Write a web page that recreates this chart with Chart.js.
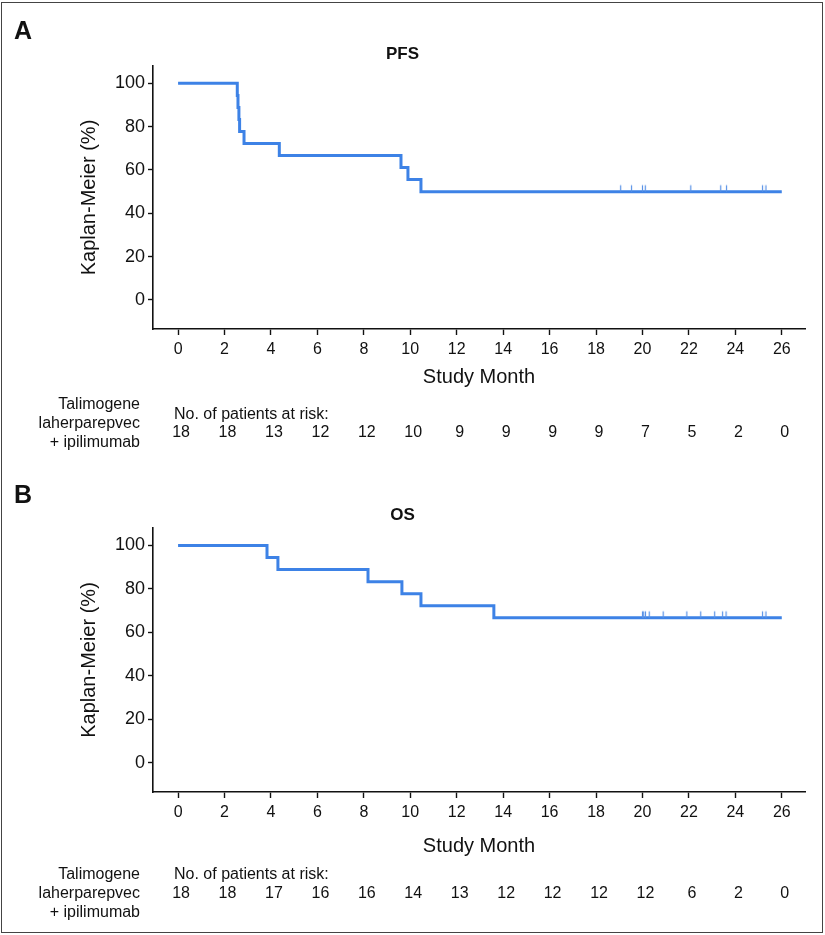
<!DOCTYPE html>
<html><head><meta charset="utf-8">
<script src="https://cdn.jsdelivr.net/npm/chart.js@4.4.0/dist/chart.umd.min.js"></script>
<style>
html,body{margin:0;padding:0;background:#fff;}
body{width:825px;height:935px;position:relative;overflow:hidden;}
#frame{position:absolute;left:1px;top:2px;width:822px;height:931px;border:1.5px solid #444;box-sizing:border-box;pointer-events:none;z-index:2;}
.wrap{position:absolute;left:0;width:825px;}
</style></head><body>
<div id="frame"></div>
<div class="wrap" style="top:0;height:462px"><canvas id="pfs"></canvas></div>
<div class="wrap" style="top:462px;height:473px"><canvas id="os"></canvas></div>
<script>
// ---- data ----
const xTicks = [0,2,4,6,8,10,12,14,16,18,20,22,24,26];
const yTicks = [0,20,40,60,80,100];

const pfsTimes = [0, 2.55, 2.58, 2.62, 2.65, 2.84, 4.36, 9.6, 9.9, 10.46, 26];
const pfsSurv  = [100, 94.4, 88.9, 83.3, 77.8, 72.2, 66.7, 61.1, 55.6, 50.0, 50.0];
const pfsCensorTimes = [19.06, 19.53, 20.0, 20.12, 22.08, 23.37, 23.62, 25.17, 25.32];
const pfsAtRisk = [18,18,13,12,12,10,9,9,9,9,7,5,2,0];

const osTimes = [0, 3.83, 4.3, 8.18, 9.64, 10.46, 13.6, 26];
const osSurv  = [100, 94.4, 88.9, 83.3, 77.8, 72.2, 66.7, 66.7];
const osCensorTimes = [20.0, 20.05, 20.13, 20.29, 20.89, 21.91, 22.51, 23.11, 23.45, 23.6, 25.17, 25.32];
const osAtRisk = [18,18,17,16,16,14,13,12,12,12,12,6,2,0];

const armLabel = ['Talimogene', 'laherparepvec', '+ ipilimumab'];
const riskHeader = 'No. of patients at risk:';

// ---- styling ----
const FONT = "'Liberation Sans', Arial, Helvetica, sans-serif";
const BLUE = '#3d82e6';
const CENSOR_BLUE = '#5a93e6';

function censorImage(){
  const c = document.createElement('canvas');
  c.width = 3; c.height = 16;
  const g = c.getContext('2d');
  g.strokeStyle = CENSOR_BLUE; g.lineWidth = 1.2;
  g.beginPath(); g.moveTo(1.5, 1.5); g.lineTo(1.5, 8); g.stroke();
  return c;
}
const censorImg = censorImage();

function survAt(times, surv, t){
  let s = surv[0];
  for (let i = 0; i < times.length; i++){ if (times[i] <= t) s = surv[i]; }
  return s;
}

function makeChart(id, cfg){
  const line = cfg.times.map((t,i)=>({x:t, y:cfg.surv[i]}));
  const cens = cfg.censors.map(t=>({x:t, y:survAt(cfg.times, cfg.surv, t)}));
  const extras = {
    id:'extras',
    afterDraw(chart){
      const ctx = chart.ctx, xs = chart.scales.x;
      ctx.save();
      ctx.fillStyle = '#111';
      // panel letter
      ctx.font = 'bold 25px ' + FONT;
      ctx.textAlign = 'left'; ctx.textBaseline = 'alphabetic';
      ctx.fillText(cfg.letter, 14, cfg.letterY);
      // risk table
      ctx.font = '16px ' + FONT;
      ctx.textBaseline = 'middle';
      ctx.textAlign = 'right';
      armLabel.forEach((s,i)=>ctx.fillText(s, 140, cfg.armY + i*19));
      ctx.textAlign = 'left';
      ctx.fillText(riskHeader, 174, cfg.headY);
      ctx.textAlign = 'center';
      cfg.atRisk.forEach((n,i)=>ctx.fillText(String(n), xs.getPixelForValue(xTicks[i]) + 3, cfg.numY));
      ctx.restore();
    }
  };
  return new Chart(document.getElementById(id), {
    type:'line',
    data:{datasets:[
      {data:line, stepped:'before', borderColor:BLUE, borderWidth:3, pointRadius:0, fill:false, borderCapStyle:'butt', borderJoinStyle:'miter', order:2},
      {data:cens, showLine:false, pointStyle:censorImg, pointRadius:8, borderColor:CENSOR_BLUE, order:1}
    ]},
    options:{
      responsive:true, maintainAspectRatio:false, animation:false, devicePixelRatio:1,
      layout:{padding:{left:0, right:20, top:0, bottom:cfg.padBottom}},
      plugins:{
        legend:{display:false}, tooltip:{enabled:false},
        title:{display:true, text:cfg.title, color:'#111', font:{family:FONT, size:17, weight:'bold'}, padding:{top:cfg.titleTop, bottom:66 - cfg.titleTop - 20.4}}
      },
      scales:{
        x:{type:'linear', min:-1.08, max:27.0,
           afterBuildTicks(s){ s.ticks = xTicks.map(v=>({value:v})); },
           afterFit(s){ s.height = cfg.xHeight; },
           border:{display:true, color:'#111', width:1.6},
           grid:{drawOnChartArea:false, drawTicks:true, tickLength:6, tickWidth:1.4, tickColor:'#111'},
           ticks:{color:'#111', font:{family:FONT, size:16}, padding:5, autoSkip:false, maxRotation:0},
           title:{display:true, text:'Study Month', color:'#111', font:{family:FONT, size:20}, padding:{top:0, bottom:0}}
        },
        y:{type:'linear', min:-13.4, max:108,
           afterBuildTicks(s){ s.ticks = yTicks.map(v=>({value:v})); },
           afterFit(s){ s.width = 153; },
           border:{display:true, color:'#111', width:1.6},
           grid:{drawOnChartArea:false, drawTicks:true, tickLength:5, tickWidth:1.4, tickColor:'#111'},
           ticks:{color:'#111', font:{family:FONT, size:18}, padding:3},
           title:{display:true, text:'Kaplan-Meier (%)', color:'#111', font:{family:FONT, size:20}, padding:{top:77, bottom:0}}
        }
      }
    },
    plugins:[extras]
  });
}

makeChart('pfs', {title:'PFS', letter:'A', letterY:39, times:pfsTimes, surv:pfsSurv, censors:pfsCensorTimes, atRisk:pfsAtRisk,
  titleTop:44, xHeight:60, padBottom:73, armY:405, headY:415, numY:433});
makeChart('os', {title:'OS', letter:'B', letterY:41, times:osTimes, surv:osSurv, censors:osCensorTimes, atRisk:osAtRisk,
  titleTop:43, xHeight:66, padBottom:77, armY:413, headY:413, numY:432});
</script>
</body></html>
